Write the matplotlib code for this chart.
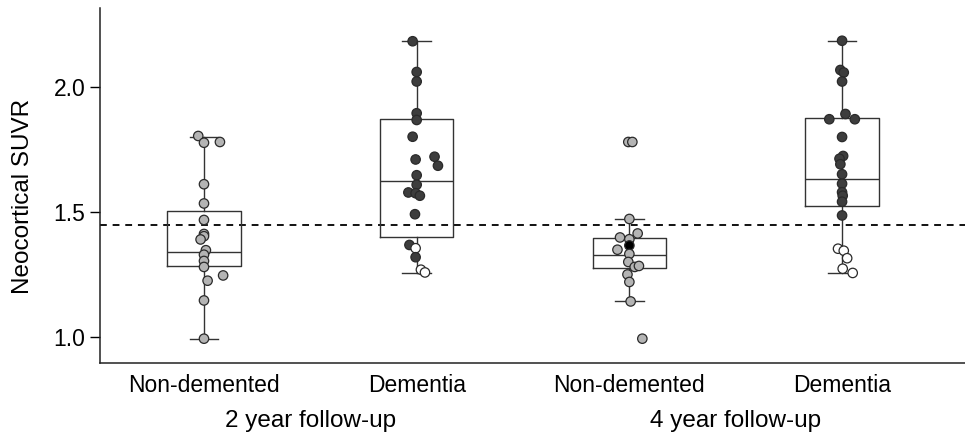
"""
Neocortical SUVR by clinical outcome, 2 and 4 year follow-up
"""
import numpy as np
import matplotlib
matplotlib.use('Agg')
import matplotlib.pyplot as plt
import matplotlib.transforms as mtransforms

plt.rcParams['font.family'] = ['Liberation Sans', 'DejaVu Sans']

# labels
categories = ['Non-demented', 'Dementia', 'Non-demented', 'Dementia']
followups = ['2 year follow-up', '4 year follow-up']
suvr_cutoff = 1.45

# 2 year, non-demented
nd2_suvr = [1.805, 1.778, 1.781, 1.612, 1.535, 1.469, 1.413, 1.404, 1.391,
            1.348, 1.330, 1.305, 1.281, 1.226, 1.247, 1.147, 0.994]
nd2_jitter = [-0.027, 0, 0.075, 0, 0, 0, 0, 0, -0.016,
              0.009, 0, 0, 0, 0.017, 0.09, 0, 0]
nd2_status = ['g'] * 17

# 2 year, dementia
de2_suvr = [2.184, 2.061, 2.023, 1.896, 1.869, 1.802, 1.711, 1.722, 1.686, 1.648,
            1.610, 1.579, 1.576, 1.566, 1.492, 1.369, 1.356, 1.320, 1.270, 1.259]
de2_jitter = [-0.019, 0, 0, 0, 0, -0.019, -0.005, 0.084, 0.1, 0,
              0, -0.039, -0.005, 0.015, -0.008, -0.034, -0.005, -0.005, 0.02, 0.039]
de2_status = ['d'] * 16 + ['w', 'd', 'w', 'w']

# 4 year, non-demented
nd4_suvr = [1.781, 1.781, 1.473, 1.415, 1.399, 1.392, 1.367, 1.350,
            1.333, 1.301, 1.281, 1.285, 1.251, 1.221, 1.143, 0.994]
nd4_jitter = [-0.005, 0.014, 0, 0.039, -0.044, 0, 0, -0.056,
              0, -0.005, 0.025, 0.045, -0.009, 0, 0.006, 0.061]
nd4_status = ['g'] * 6 + ['k'] + ['g'] * 9

# 4 year, dementia
de4_suvr = [2.186, 2.069, 2.059, 2.023, 1.893, 1.872, 1.872, 1.801, 1.725, 1.714, 1.692,
            1.652, 1.614, 1.580, 1.566, 1.542, 1.487, 1.354, 1.346, 1.316, 1.274, 1.257]
de4_jitter = [0, -0.008, 0.008, 0, 0.016, -0.06, 0.06, 0, 0.005, -0.012, -0.008,
              0, 0, 0, 0.003, 0, 0, -0.019, 0.008, 0.024, 0.003, 0.05]
de4_status = ['d'] * 17 + ['w'] * 5

# box statistics
box_q1 = [1.285, 1.400, 1.278, 1.526]
box_med = [1.340, 1.626, 1.329, 1.632]
box_q3 = [1.505, 1.874, 1.397, 1.876]
box_lo = [0.993, 1.257, 1.143, 1.257]
box_hi = [1.802, 2.186, 1.472, 2.186]

status_colors = {'g': '#b4b4b4', 'd': '#3d3d3d', 'w': '#ffffff', 'k': '#000000'}


def main():
    fig = plt.figure(figsize=(9.65, 4.33), dpi=100)
    ax = fig.add_axes([0.1036, 0.1624, 0.8964, 0.8191])

    positions = np.arange(1, 5)

    # boxes
    stats = []
    for i in range(4):
        stats.append({'q1': box_q1[i], 'med': box_med[i], 'q3': box_q3[i],
                      'whislo': box_lo[i], 'whishi': box_hi[i], 'fliers': []})
    line_kw = dict(color='#333333', linewidth=1.0)
    ax.bxp(stats, positions=positions, widths=0.346, capwidths=0.134,
           showfliers=False, boxprops=line_kw, whiskerprops=line_kw,
           capprops=line_kw, medianprops=line_kw, zorder=2)

    # cut-off
    ax.axhline(suvr_cutoff, color='#111111', linestyle=(0, (3.5, 3)),
               linewidth=1.4, zorder=1)

    # individual subjects
    groups = [(nd2_suvr, nd2_jitter, nd2_status),
              (de2_suvr, de2_jitter, de2_status),
              (nd4_suvr, nd4_jitter, nd4_status),
              (de4_suvr, de4_jitter, de4_status)]
    for pos, (vals, jit, stat) in zip(positions, groups):
        xs = pos + np.array(jit)
        cols = [status_colors[s] for s in stat]
        ax.scatter(xs, vals, s=46, c=cols, edgecolors='#2a2a2a',
                   linewidths=0.9, zorder=3)

    ax.set_xlim(0.511, 4.578)
    ax.set_ylim(0.898, 2.317)
    ax.set_yticks([1.0, 1.5, 2.0])
    ax.set_yticklabels(['1.0', '1.5', '2.0'])
    ax.set_xticks(positions)
    ax.set_xticklabels(categories)
    ax.tick_params(axis='x', length=0, pad=8, labelsize=16.5)
    ax.tick_params(axis='y', length=7.5, width=1.0, pad=3, labelsize=16.5)
    ax.set_ylabel('Neocortical SUVR', fontsize=17.5)
    ax.yaxis.set_label_coords(-0.076, 0.47)

    for side in ['top', 'right']:
        ax.spines[side].set_visible(False)
    for side in ['left', 'bottom']:
        ax.spines[side].set_linewidth(1.1)
        ax.spines[side].set_color('#222222')

    # follow-up labels under each pair
    trans = mtransforms.blended_transform_factory(ax.transData, ax.transAxes)
    ax.text(1.5, -0.181, followups[0], transform=trans, ha='center',
            va='baseline', fontsize=17.5)
    ax.text(3.5, -0.181, followups[1], transform=trans, ha='center',
            va='baseline', fontsize=17.5)

    fig.savefig('out.png', dpi=100)


if __name__ == "__main__":
    main()
